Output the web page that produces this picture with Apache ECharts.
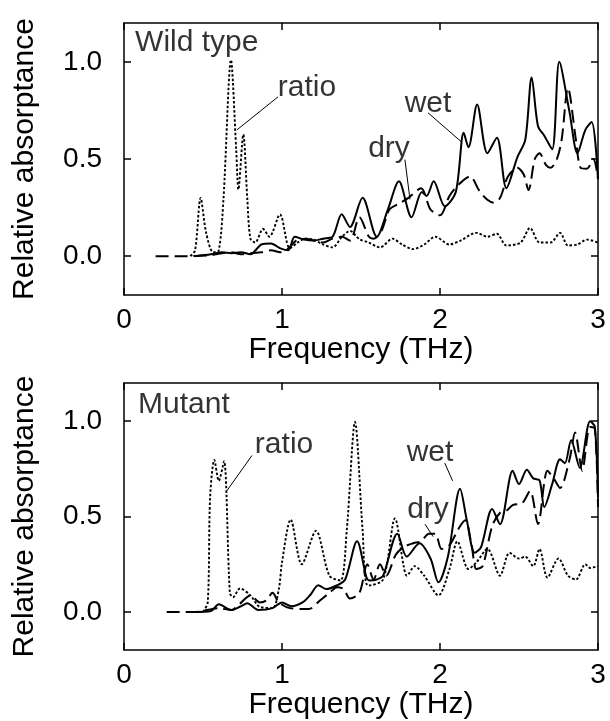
<!DOCTYPE html>
<html>
<head>
<meta charset="utf-8">
<script src="https://cdn.jsdelivr.net/npm/echarts@6/dist/echarts.min.js"></script>
<style>html,body{margin:0;padding:0;background:#fff;}#c{width:610px;height:721px;}</style>
</head>
<body>
<div id="c"></div>
<script>
// ---------- tick labels ----------
const xTicks = [0, 1, 2, 3];
const yTicks = [0, 0.5, 1.0];

// ---------- Wild type panel ----------
const wtWetX = [0.45,0.55,0.62,0.68,0.74,0.80,0.87,0.93,0.99,1.04,1.08,1.14,1.20,1.26,1.32,1.378,1.43,1.51,1.60,1.67,1.74,1.82,1.885,1.915,1.96,2.03,2.10,2.15,2.18,2.235,2.30,2.36,2.42,2.49,2.54,2.58,2.62,2.66,2.71,2.755,2.82,2.87,2.92,2.96,3.00];
const wtWetY = [0,0.01,0.02,0.015,0.02,0.01,0.06,0.065,0.04,0.03,0.10,0.085,0.08,0.09,0.10,0.215,0.15,0.30,0.10,0.24,0.385,0.20,0.33,0.31,0.385,0.257,0.33,0.635,0.56,0.78,0.53,0.61,0.35,0.51,0.60,0.92,0.67,0.62,0.55,1.00,0.74,0.53,0.65,0.69,0.395];

const wtDryX = [0.20,0.40,0.55,0.62,0.68,0.74,0.80,0.87,0.93,0.99,1.04,1.09,1.15,1.20,1.26,1.32,1.38,1.43,1.49,1.55,1.58,1.63,1.68,1.74,1.80,1.88,1.94,2.00,2.06,2.12,2.19,2.25,2.30,2.34,2.38,2.43,2.49,2.53,2.56,2.60,2.63,2.67,2.70,2.74,2.77,2.81,2.86,2.89,2.93,2.97,3.00];
const wtDryY = [0,0,0.005,0.015,0.02,0.01,0.015,0.02,0.03,0.02,0.04,0.08,0.09,0.08,0.07,0.09,0.10,0.08,0.20,0.10,0.09,0.13,0.24,0.27,0.30,0.35,0.24,0.21,0.31,0.37,0.41,0.335,0.29,0.275,0.30,0.41,0.455,0.42,0.34,0.50,0.53,0.47,0.455,0.50,0.60,0.865,0.60,0.455,0.45,0.50,0.40];

const wtRatioX = [0.42,0.45,0.485,0.52,0.565,0.60,0.63,0.677,0.71,0.724,0.755,0.78,0.80,0.83,0.88,0.92,0.987,1.05,1.10,1.15,1.20,1.26,1.32,1.38,1.43,1.49,1.55,1.62,1.70,1.76,1.83,1.90,1.97,2.06,2.13,2.23,2.30,2.36,2.42,2.51,2.57,2.63,2.70,2.76,2.81,2.87,2.93,3.00];
const wtRatioY = [0,0.03,0.30,0.12,0.02,0.03,0.30,1.01,0.55,0.343,0.626,0.30,0.09,0.07,0.14,0.10,0.215,0.04,0.07,0.09,0.085,0.06,0.045,0.10,0.13,0.087,0.07,0.045,0.09,0.06,0.036,0.06,0.10,0.06,0.08,0.12,0.10,0.115,0.055,0.07,0.145,0.07,0.07,0.12,0.055,0.06,0.085,0.07];

// ---------- Mutant panel ----------
const muWetX = [0.45,0.55,0.60,0.68,0.74,0.78,0.85,0.94,1.00,1.06,1.13,1.18,1.23,1.28,1.35,1.40,1.475,1.535,1.555,1.60,1.64,1.73,1.79,1.87,1.94,1.99,2.05,2.127,2.17,2.22,2.26,2.33,2.38,2.46,2.50,2.55,2.59,2.63,2.66,2.71,2.76,2.79,2.83,2.885,2.95,2.98,3.00];
const muWetY = [0,0.005,0.04,0.01,0.03,0.045,0.01,0.02,0.05,0.03,0.05,0.09,0.14,0.12,0.14,0.17,0.37,0.18,0.165,0.17,0.19,0.41,0.29,0.36,0.28,0.155,0.29,0.646,0.48,0.31,0.34,0.54,0.46,0.74,0.67,0.745,0.70,0.69,0.55,0.67,0.80,0.78,0.90,0.755,1.00,0.97,0.60];

const muDryX = [0.27,0.45,0.60,0.68,0.73,0.80,0.86,0.90,0.94,0.98,1.05,1.17,1.24,1.30,1.35,1.39,1.43,1.49,1.54,1.58,1.62,1.66,1.72,1.77,1.83,1.88,1.93,1.97,2.01,2.06,2.12,2.16,2.20,2.23,2.27,2.33,2.38,2.42,2.46,2.52,2.57,2.62,2.68,2.72,2.76,2.82,2.855,2.90,2.95,2.98,3.00];
const muDryY = [0,0,0.02,0.01,0.04,0.087,0.05,0.06,0.10,0.05,0.02,0.015,0.06,0.10,0.13,0.12,0.07,0.10,0.25,0.17,0.25,0.19,0.30,0.34,0.36,0.37,0.41,0.41,0.33,0.35,0.44,0.48,0.35,0.225,0.24,0.45,0.52,0.53,0.56,0.57,0.635,0.46,0.74,0.70,0.65,0.80,0.94,0.74,0.97,0.96,0.55];

const muRatioX = [0.50,0.53,0.545,0.572,0.60,0.633,0.67,0.69,0.734,0.80,0.86,0.94,0.98,1.00,1.055,1.125,1.215,1.30,1.37,1.41,1.462,1.51,1.545,1.64,1.715,1.77,1.79,1.84,1.90,1.99,2.06,2.11,2.18,2.23,2.30,2.38,2.44,2.50,2.54,2.59,2.63,2.68,2.75,2.81,2.86,2.92,2.95,3.00];
const muRatioY = [0,0.05,0.60,0.797,0.687,0.79,0.10,0.077,0.123,0.087,0.026,0.02,0.12,0.26,0.484,0.25,0.425,0.19,0.165,0.43,0.996,0.43,0.138,0.17,0.49,0.24,0.19,0.24,0.19,0.087,0.225,0.37,0.225,0.26,0.33,0.19,0.31,0.28,0.29,0.24,0.33,0.18,0.28,0.19,0.17,0.25,0.23,0.24];

// ---------- annotations (data coordinates) ----------
const wtLabelText = ['ratio', 'wet', 'dry'];
const wtLabelX = [1.158, 1.924, 1.677];
const wtLabelY = [0.867, 0.785, 0.555];
const wtLeaderFrom = [[0.975, 0.82], [1.924, 0.738], [1.778, 0.497]];
const wtLeaderTo = [[0.715, 0.65], [2.133, 0.59], [1.81, 0.292]];

const muLabelText = ['ratio', 'wet', 'dry'];
const muLabelX = [1.013, 1.937, 1.924];
const muLabelY = [0.877, 0.836, 0.538];
const muLeaderFrom = [[0.81, 0.82], [2.03, 0.78], [1.905, 0.46]];
const muLeaderTo = [[0.652, 0.636], [2.08, 0.687], [1.956, 0.395]];

const panelTitles = ['Wild type', 'Mutant'];
const panelTitleX = [0.07, 0.089];
const panelTitleY = [1.10, 1.087];

// ---------- build ----------
const FONT = '"Liberation Sans", Arial, Helvetica, sans-serif';
const BLACK = '#000';
const pairs = (xs, ys) => xs.map((x, i) => [x, ys[i]]);

function xAxes(grid) {
  const line = { show: true, onZero: false, lineStyle: { color: BLACK, width: 1.5 } };
  const tick = { show: true, inside: true, length: 7, customValues: xTicks, lineStyle: { color: BLACK, width: 1.5 } };
  return [
    { gridIndex: grid, type: 'value', min: 0, max: 3, interval: 1, position: 'bottom',
      axisLine: line, axisTick: tick, splitLine: { show: false },
      axisLabel: { customValues: xTicks, color: BLACK, fontSize: 28, fontFamily: FONT, margin: 11, formatter: v => String(v) },
      name: 'Frequency (THz)', nameLocation: 'middle', nameGap: 31,
      nameTextStyle: { color: BLACK, fontSize: 30, fontFamily: FONT } },
    { gridIndex: grid, type: 'value', min: 0, max: 3, interval: 1, position: 'top',
      axisLine: line, axisTick: tick, splitLine: { show: false }, axisLabel: { show: false } }
  ];
}
function yAxes(grid) {
  const line = { show: true, onZero: false, lineStyle: { color: BLACK, width: 1.5 } };
  const tick = { show: true, inside: true, length: 7, customValues: yTicks, lineStyle: { color: BLACK, width: 1.5 } };
  return [
    { gridIndex: grid, type: 'value', min: -0.2, max: 1.2, position: 'left',
      axisLine: line, axisTick: tick, splitLine: { show: false },
      axisLabel: { customValues: yTicks, color: BLACK, fontSize: 28, fontFamily: FONT, margin: 22, formatter: v => v.toFixed(1) },
      name: 'Relative absorptance', nameLocation: 'middle', nameGap: 84,
      nameTextStyle: { color: BLACK, fontSize: 30, fontFamily: FONT } },
    { gridIndex: grid, type: 'value', min: -0.2, max: 1.2, position: 'right',
      axisLine: line, axisTick: tick, splitLine: { show: false }, axisLabel: { show: false } }
  ];
}

function curve(name, xs, ys, xi, yi, type, width) {
  return { name, type: 'line', xAxisIndex: xi, yAxisIndex: yi, data: pairs(xs, ys),
    showSymbol: false, symbol: 'none', smooth: 0.3, silent: true,
    lineStyle: { color: BLACK, width, type } };
}
function leader(from, to, xi, yi) {
  return { type: 'line', xAxisIndex: xi, yAxisIndex: yi, data: [from, to], symbol: 'none',
    silent: true, lineStyle: { color: BLACK, width: 1 } };
}
function labels(texts, xs, ys, xi, yi, align) {
  return { type: 'scatter', xAxisIndex: xi, yAxisIndex: yi, symbolSize: 1, silent: true,
    itemStyle: { color: 'rgba(0,0,0,0)' },
    data: texts.map((t, i) => ({ name: t, value: [xs[i], ys[i]] })),
    label: { show: true, position: 'inside', formatter: '{b}', align: align, verticalAlign: 'middle',
      color: BLACK, fontSize: 30, fontFamily: FONT } };
}

const series = [];
// panel 1
series.push(curve('wet', wtWetX, wtWetY, 0, 0, 'solid', 2));
series.push(curve('dry', wtDryX, wtDryY, 0, 0, [13, 6], 2));
series.push(curve('ratio', wtRatioX, wtRatioY, 0, 0, [2.5, 2], 1.9));
series.push(labels(wtLabelText, wtLabelX, wtLabelY, 0, 0, 'center'));
series.push(labels([panelTitles[0]], [panelTitleX[0]], [panelTitleY[0]], 0, 0, 'left'));
wtLeaderFrom.forEach((f, i) => series.push(leader(f, wtLeaderTo[i], 0, 0)));
// panel 2
series.push(curve('wet', muWetX, muWetY, 2, 2, 'solid', 2));
series.push(curve('dry', muDryX, muDryY, 2, 2, [13, 6], 2));
series.push(curve('ratio', muRatioX, muRatioY, 2, 2, [2.5, 2], 1.9));
series.push(labels(muLabelText, muLabelX, muLabelY, 2, 2, 'center'));
series.push(labels([panelTitles[1]], [panelTitleX[1]], [panelTitleY[1]], 2, 2, 'left'));
muLeaderFrom.forEach((f, i) => series.push(leader(f, muLeaderTo[i], 2, 2)));

const chart = echarts.init(document.getElementById('c'), null, { renderer: 'canvas' });
chart.setOption({
  animation: false,
  backgroundColor: '#fff',
  textStyle: { fontFamily: FONT },
  grid: [
    { left: 124, right: 12, top: 23, height: 272 },
    { left: 124, right: 12, top: 383, height: 272 }
  ],
  xAxis: xAxes(0).concat(xAxes(1)),
  yAxis: yAxes(0).concat(yAxes(1)),
  series
});
</script>
</body>
</html>
